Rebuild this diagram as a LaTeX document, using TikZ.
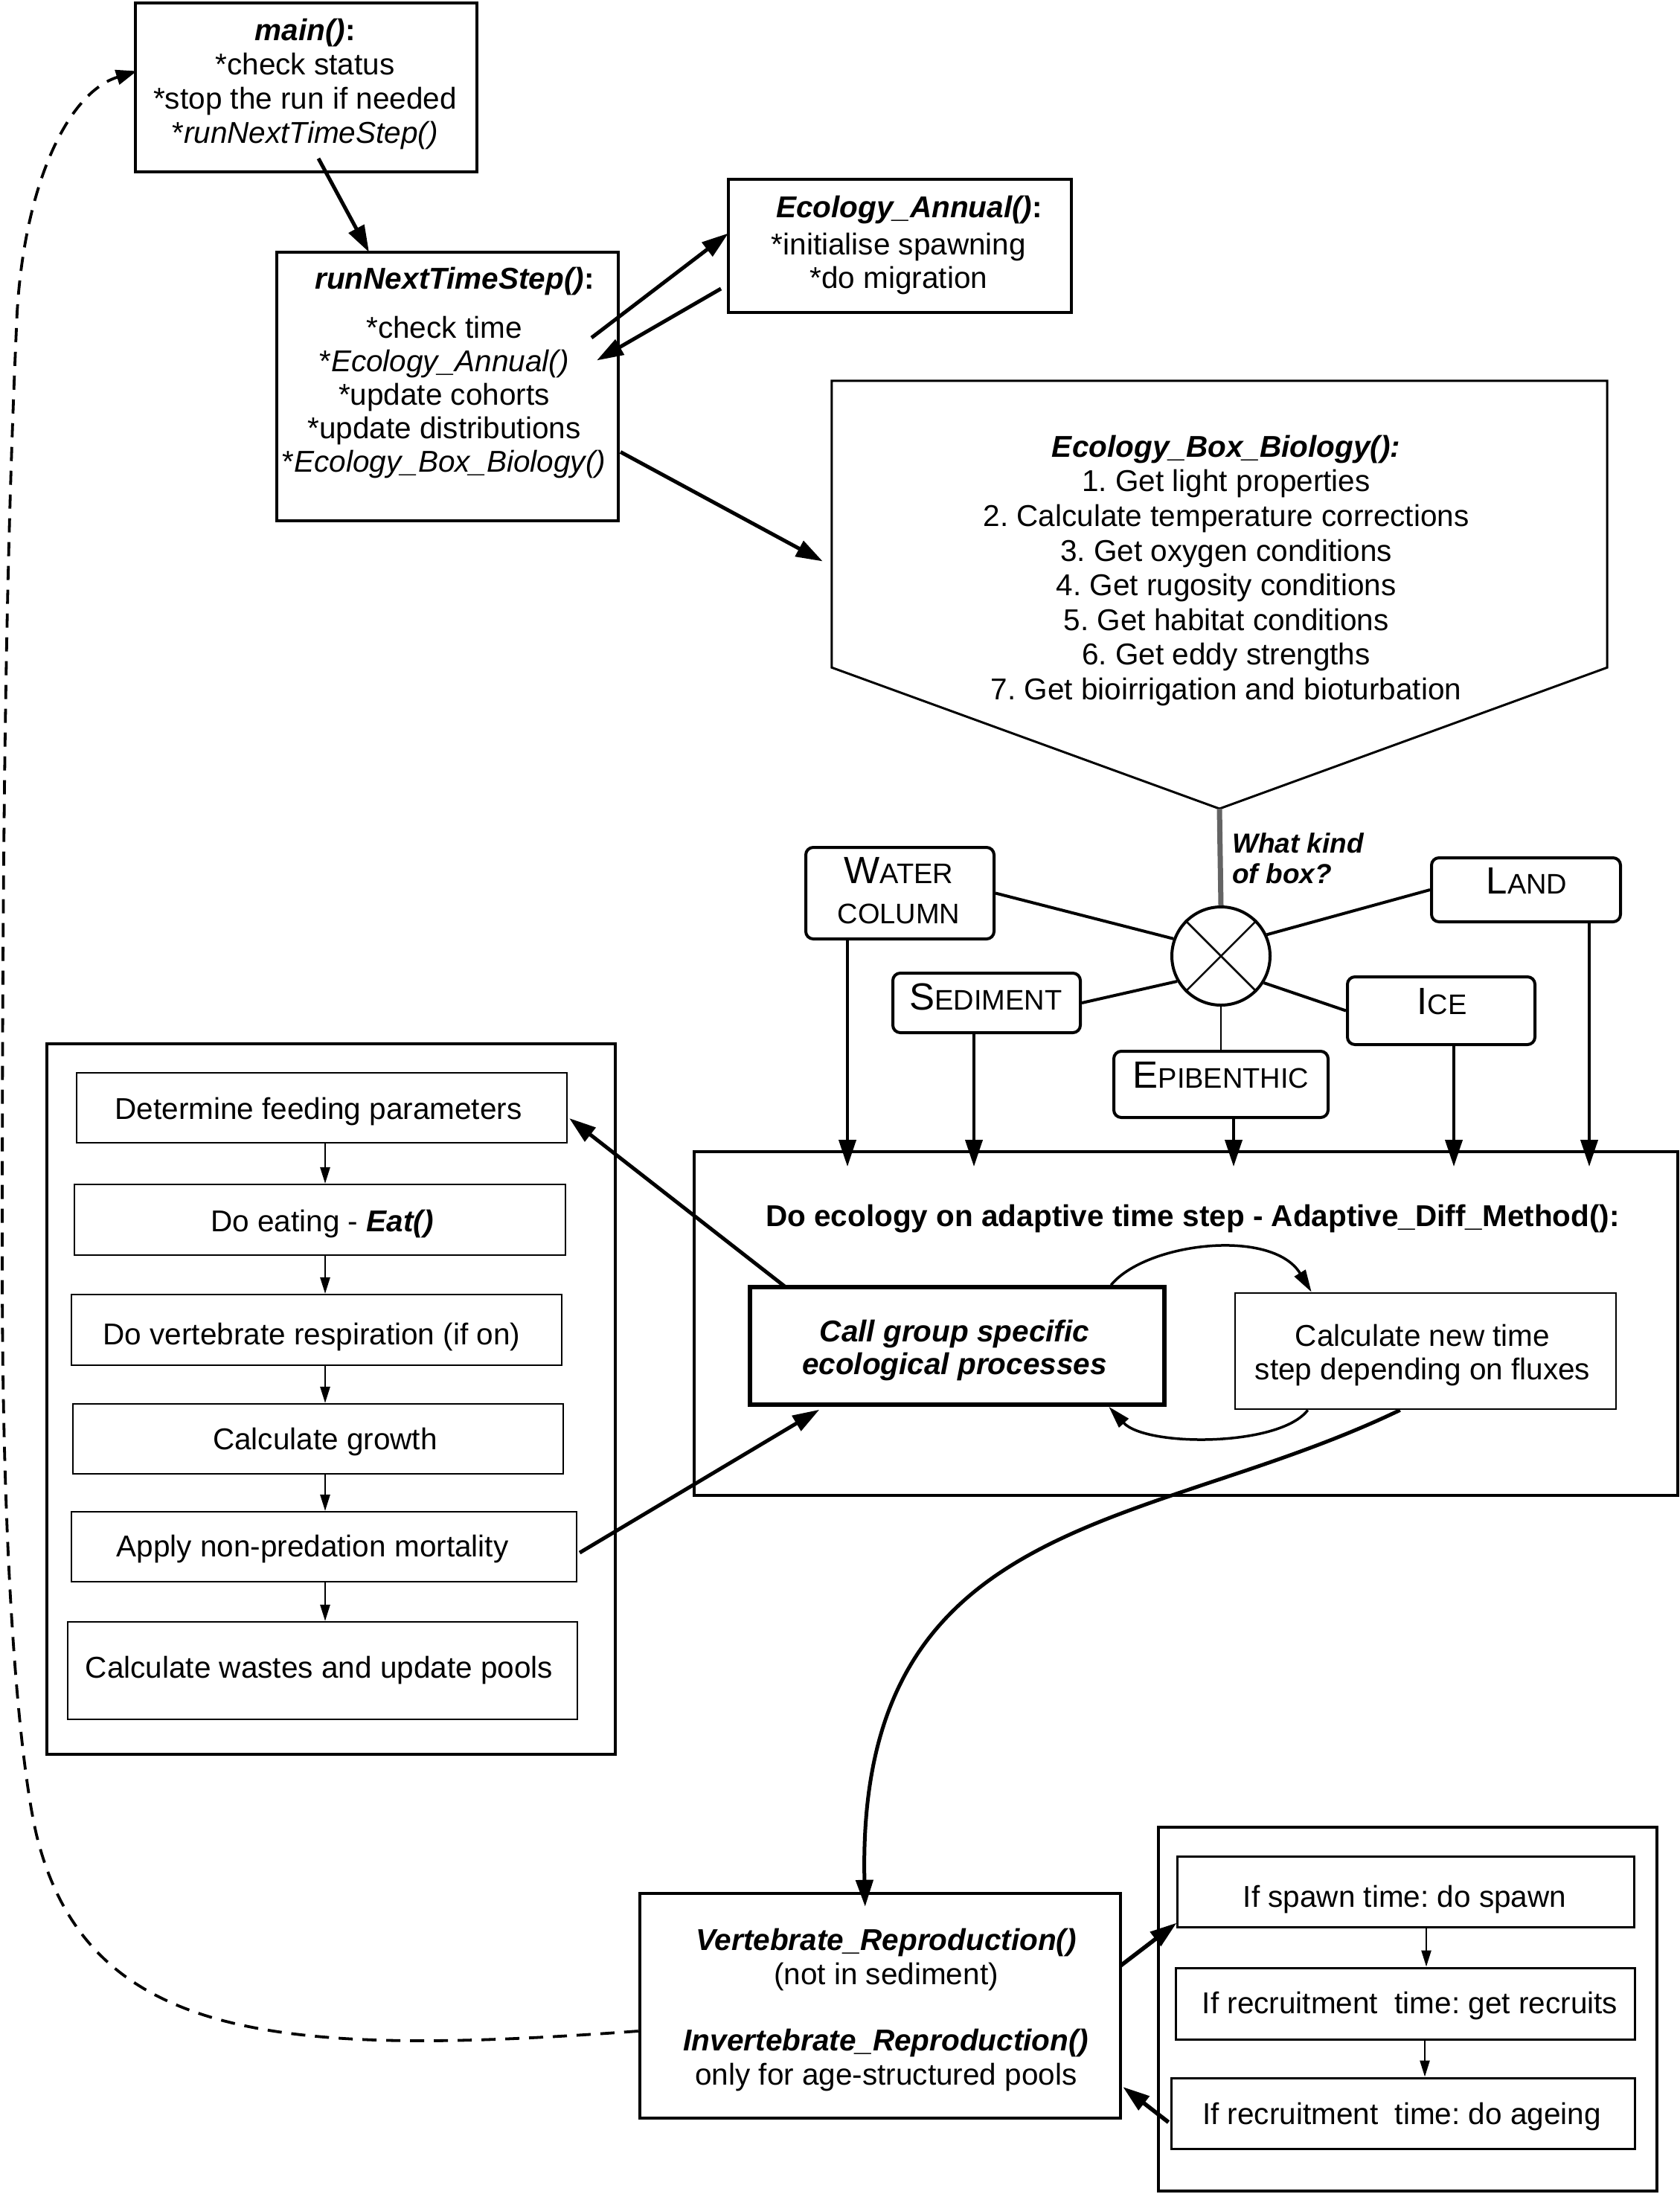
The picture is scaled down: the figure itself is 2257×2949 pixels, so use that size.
\documentclass[tikz,border=0pt]{standalone}
\usepackage{fontspec}
\setmainfont{Liberation Sans}
\usetikzlibrary{arrows.meta,calc}
\definecolor{lgray}{RGB}{100,100,100}
\frenchspacing
\newcommand\capsc[2]{{\fontsize{51}{51}\selectfont #1}{\fontsize{38}{38}\selectfont #2}}
\newcommand\mkbox[6]{\node[#2,minimum width={#5-#3},minimum height={#6-#4}] (#1) at ({(#3+#5)/2},{(#4+#6)/2}) {};}
\begin{document}
\frenchspacing
\begin{tikzpicture}[x=1pt,y=-1pt,
  bx/.style={draw,rectangle,inner sep=0pt,line width=4pt},
  thinbx/.style={draw,rectangle,inner sep=0pt,line width=2.2pt},
  rbx/.style={draw,rectangle,rounded corners=10pt,inner sep=0pt,line width=4pt},
  ghost/.style={rectangle,inner sep=0pt},
  txt/.style={inner sep=0pt,align=center,font=\fontsize{40.5}{46}\selectfont},
  sctxt/.style={inner sep=0pt},
  arr/.style={line width=5pt,-{Triangle[length=36pt,width=23pt]}},
  sarr/.style={line width=2.5pt,-{Triangle[length=22pt,width=13pt]}},
  larr/.style={line width=3.5pt,-{Triangle[length=30pt,width=17pt]}},
  ln/.style={line width=4pt},
  dsh/.style={line width=3.8pt,dash pattern=on 19pt off 13pt,-{Triangle[length=28pt,width=20pt]}}]
\useasboundingbox (0,0) rectangle (2257,2949);

% ---------- boxes ----------
\mkbox{main}{bx}{182}{4}{641}{231}
\mkbox{rn}{bx}{372}{339}{831}{700}
\mkbox{ea}{bx}{979}{241}{1440}{420}
\mkbox{ebb}{ghost}{1118}{512}{2160}{897}
\coordinate (ebbtip) at (1639,1087);
\draw[line width=3pt] (ebb.north west) -- (ebb.north east) -- (ebb.south east) -- (ebbtip) -- (ebb.south west) -- cycle;

\node[draw,circle,line width=4pt,minimum size=132,inner sep=0pt] (cx) at (1641,1285) {};
\draw[line width=2.5pt] (cx.45) -- (cx.225);
\draw[line width=2.5pt] (cx.135) -- (cx.315);

\mkbox{wc}{rbx}{1083}{1139}{1336}{1262}
\mkbox{sed}{rbx}{1200}{1308}{1452}{1388}
\mkbox{epi}{rbx}{1497}{1413}{1785}{1502}
\mkbox{ice}{rbx}{1811}{1313}{2063}{1404}
\mkbox{land}{rbx}{1924}{1153}{2178}{1239}

\mkbox{ad}{bx}{933}{1548}{2255}{2010}
\mkbox{cg}{bx,line width=5.5pt}{1008}{1730}{1565}{1888}
\mkbox{cn}{thinbx,line width=2.6pt}{1660}{1738}{2172}{1894}

\mkbox{lb}{bx}{63}{1403}{827}{2358}
\mkbox{l1}{thinbx}{103}{1442}{762}{1536}
\mkbox{l2}{thinbx}{100}{1592}{760}{1687}
\mkbox{l3}{thinbx}{96}{1740}{755}{1835}
\mkbox{l4}{thinbx}{98}{1887}{757}{1981}
\mkbox{l5}{thinbx}{96}{2032}{775}{2126}
\mkbox{l6}{thinbx}{91}{2180}{776}{2311}

\mkbox{vr}{bx,line width=4.5pt}{860}{2545}{1506}{2847}
\mkbox{rb}{bx,line width=4.5pt}{1557}{2456}{2227}{2945}
\mkbox{s1}{thinbx,line width=3pt}{1582}{2495}{2196}{2590}
\mkbox{s2}{thinbx,line width=3pt}{1580}{2645}{2197}{2741}
\mkbox{s3}{thinbx,line width=3pt}{1574}{2793}{2197}{2888}

% ---------- texts ----------
\node[txt] (tmain) at (410,113.5) {\textbf{\textit{main()}:}\\{*}check status\\{*}stop the run if needed\\{*}\textit{runNextTimeStep()}};
\node[txt] (trn1) at (611,378) {\textbf{\textit{runNextTimeStep()}:}};
\node[txt,font=\fontsize{40.5}{45}\selectfont] (trn2) at (597,534.5) {{*}check time\\{*}\textit{Ecology\_Annual()}\\{*}update cohorts\\{*}update distributions\\{*}\textit{Ecology\_Box\_Biology()}};
\node[txt] (tea1) at (1222,282) {\textbf{\textit{Ecology\_Annual()}:}};
\node[txt,font=\fontsize{40.5}{45}\selectfont] (tea2) at (1208,354.5) {{*}initialise spawning\\{*}do migration};
\node[txt,font=\fontsize{40.5}{46.6}\selectfont] (tebb) at (1648,767) {\textbf{\textit{Ecology\_Box\_Biology():}}\\1. Get light properties\\2. Calculate temperature corrections\\3. Get oxygen conditions\\4. Get rugosity conditions\\5. Get habitat conditions\\6. Get eddy strengths\\7. Get bioirrigation and bioturbation};
\node[inner sep=0pt,align=left,anchor=west,font=\fontsize{37}{41}\selectfont\bfseries\itshape] (twk) at (1656,1153.5) {What kind\\of box?};

\node[sctxt] (twc1) at (1208,1170) {\capsc{W}{ATER}};
\node[sctxt] (twc2) at (1208,1228) {\fontsize{38}{38}\selectfont COLUMN};
\node[sctxt] (tsed) at (1325,1340) {\capsc{S}{EDIMENT}};
\node[sctxt] (tepi) at (1641,1445) {\capsc{E}{PIBENTHIC}};
\node[sctxt] (tice) at (1938,1346) {\capsc{I}{CE}};
\node[sctxt] (tland) at (2052,1184) {\capsc{L}{AND}};

\node[txt] (tad) at (1603,1638) {\textbf{Do ecology on adaptive time step - Adaptive\_Diff\_Method():}};
\node[txt,font=\fontsize{40.5}{44}\selectfont\bfseries\itshape] (tcg) at (1283,1815) {Call group specific\\ecological processes};
\node[txt,font=\fontsize{40.5}{45}\selectfont] (tcn) at (1912,1822) {Calculate new time\\step depending on fluxes};

\node[txt] (tl1) at (428,1494) {Determine feeding parameters};
\node[txt] (tl2) at (433,1645) {Do eating - \textbf{\textit{Eat()}}};
\node[txt] (tl3) at (419,1797) {Do vertebrate respiration (if on)};
\node[txt] (tl4) at (437,1938) {Calculate growth};
\node[txt] (tl5) at (420,2082) {Apply non-predation mortality};
\node[txt] (tl6) at (429,2245) {Calculate wastes and update pools};

\node[txt] (tvr1) at (1191,2634) {\textbf{\textit{Vertebrate\_Reproduction()}}\\(not in sediment)};
\node[txt] (tvr2) at (1191,2769) {\textbf{\textit{Invertebrate\_Reproduction()}}\\only for age-structured pools};

\node[txt] (ts1) at (1888,2553) {If spawn time: do spawn};
\node[txt] (ts2) at (1895,2696) {If recruitment\ \ time: get recruits};
\node[txt] (ts3) at (1884,2845) {If recruitment\ \ time: do ageing};

% ---------- connectors ----------
\draw[arr] ($(main.south west)+(248,-20)$) -- ($(rn.north west)+(126,2)$);
\draw[arr] ($(rn.north east)+(-38,117)$) -- ($(ea.west)+(2,-17)$);
\draw[arr] ($(ea.south west)+(-8,-34)$) -- ($(rn.east)+(-31,-35)$);
\draw[arr] ($(rn.east)+(1,88)$) -- ($(ebb.west)+(-12,50)$);

\draw[line width=7pt,lgray] (ebbtip) -- (cx.north);
\draw[ln] (wc.east) -- (cx.160);
\draw[ln] (sed.east) -- (cx.210);
\draw[line width=2pt] (epi.north) -- (cx.south);
\draw[ln] (ice.west) -- (cx.328);
\draw[ln] (land.west) -- (cx.25);

\coordinate (t1) at ($(ad.north west)+(208,22)$);
\coordinate (t2) at ($(ad.north west)+(378,22)$);
\coordinate (t3) at ($(ad.north west)+(727,22)$);
\coordinate (t4) at ($(ad.north west)+(1023,22)$);
\coordinate (t5) at ($(ad.north west)+(1205,22)$);
\draw[arr,line width=4pt] (wc.south -| t1) -- (t1);
\draw[arr,line width=4pt] (sed.south -| t2) -- (t2);
\draw[arr,line width=4pt] (epi.south -| t3) -- (t3);
\draw[arr,line width=4pt] (ice.south -| t4) -- (t4);
\draw[arr,line width=4pt] (land.south -| t5) -- (t5);

\draw[larr] ($(cg.north west)+(488,0)$) .. controls (1540,1670) and (1710,1650) .. ($(cn.north west)+(104,0)$);
\draw[larr] ($(cn.south west)+(99,0)$) .. controls (1720,1945) and (1540,1945) .. ($(cg.south west)+(485,0)$);

\draw[arr] ($(cg.north west)+(51,3)$) -- ($(l1.east)+(2,14)$);
\draw[arr] ($(l5.east)+(3,8)$) -- ($(cg.south west)+(96,4)$);

\coordinate (xa) at (437,0);
\draw[sarr] (l1.south -| xa) -- (l2.north -| xa);
\draw[sarr] (l2.south -| xa) -- (l3.north -| xa);
\draw[sarr] (l3.south -| xa) -- (l4.north -| xa);
\draw[sarr] (l4.south -| xa) -- (l5.north -| xa);
\draw[sarr] (l5.south -| xa) -- (l6.north -| xa);

\draw[arr] ($(cn.south west)+(223,0)$) .. controls (1540,2060) and (1150,2030) .. ($(vr.north west)+(305,20)$);

\draw[arr,line width=5.5pt] ($(vr.east)+(-2,-54)$) -- ($(s1.south west)+(1,-7)$);
\draw[arr,line width=5.5pt] ($(s3.west)+(-2,12)$) -- ($(vr.east)+(1,109)$);
\coordinate (xb) at (1917,0);
\coordinate (xc) at (1915,0);
\draw[sarr] (s1.south -| xb) -- (s2.north -| xb);
\draw[sarr] (s2.south -| xc) -- (s3.north -| xc);

\draw[dsh] ($(vr.west)+(0,34)$) .. controls (380,2765) and (120,2745) .. (50,2470)
  .. controls (30,2390) and (3,2150) .. (3,1700)
  .. controls (3,1100) and (8,750) .. (23,420)
  .. controls (33,250) and (90,125) .. ($(main.west)+(4,-22)$);
\end{tikzpicture}
\end{document}
